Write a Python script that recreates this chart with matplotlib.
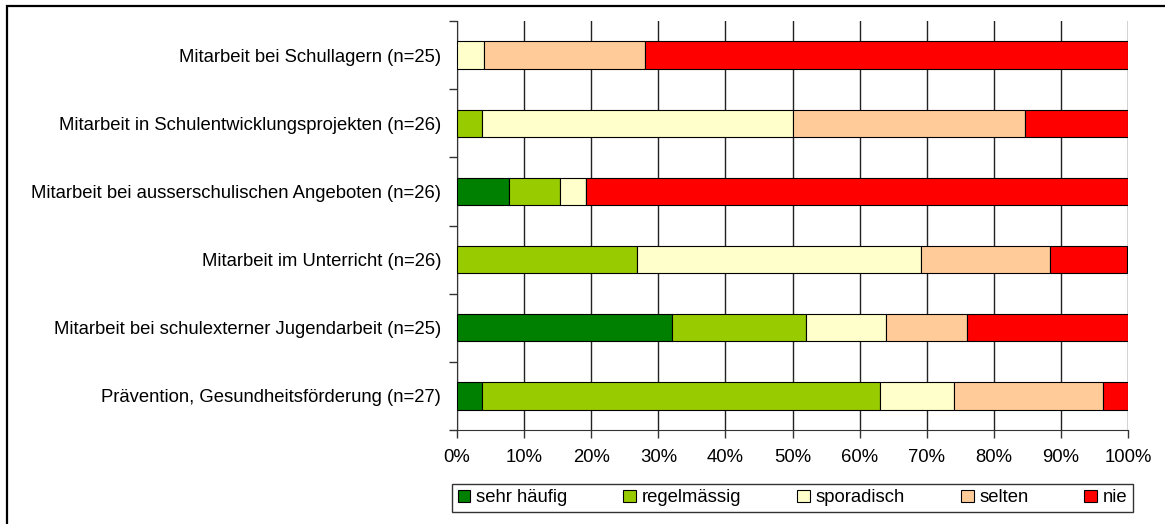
import numpy as np
import matplotlib.pyplot as plt
from matplotlib.patches import Rectangle

plt.rcParams['font.family'] = ['Liberation Sans', 'DejaVu Sans']

# categories, top to bottom
categories = ["Mitarbeit bei Schullagern (n=25)",
              "Mitarbeit in Schulentwicklungsprojekten (n=26)",
              "Mitarbeit bei ausserschulischen Angeboten (n=26)",
              "Mitarbeit im Unterricht (n=26)",
              "Mitarbeit bei schulexterner Jugendarbeit (n=25)",
              "Prävention, Gesundheitsförderung (n=27)"]

series_names = ["sehr häufig", "regelmässig", "sporadisch", "selten", "nie"]

# shares in percent per category
sehr_haeufig = [0.0, 0.0, 7.7, 0.0, 32.0, 3.7]
regelmaessig = [0.0, 3.8, 7.7, 26.9, 20.0, 59.3]
sporadisch = [4.0, 46.2, 3.8, 42.3, 12.0, 11.1]
selten = [24.0, 34.6, 0.0, 19.2, 12.0, 22.2]
nie = [72.0, 15.4, 80.8, 11.5, 24.0, 3.7]

x_ticks = np.arange(0, 101, 10)
x_tick_labels = [f"{t}%" for t in x_ticks]

colors = ["#008000", "#99cc00", "#ffffcc", "#ffcc99", "#ff0000"]
fs = 13.3

fig = plt.figure(figsize=(11.65, 5.24), dpi=100)
W, H = 1165, 524
ax = fig.add_axes([457 / W, 1 - 430 / H, (1128 - 457) / W, (430 - 21) / H])

# outer frame (only top and left visible in the reference)
fig.patches.append(Rectangle((7 / W, -0.1), 1.2, 1 - 6 / H + 0.1, transform=fig.transFigure,
                             fill=False, edgecolor="black", linewidth=1.6))

y = np.arange(len(categories))
left = np.zeros(len(categories))
for name, vals, col in zip(series_names, [sehr_haeufig, regelmaessig, sporadisch, selten, nie], colors):
    vals = np.array(vals)
    ax.barh(y, vals, left=left, height=0.4, color=col, edgecolor="black",
            linewidth=0.8, label=name, zorder=3)
    left += vals

ax.set_xlim(0, 100)
ax.set_ylim(len(categories) - 0.5, -0.5)

for t in x_ticks:
    ax.axvline(t, color="#222222", linewidth=1.0, zorder=1)

ax.set_xticks(x_ticks)
ax.set_xticklabels(x_tick_labels, fontsize=fs)
ax.tick_params(axis="x", length=6, width=1, pad=8, color="#333333")

ax.set_yticks(y)
ax.set_yticklabels(categories, fontsize=fs)
ax.set_yticks(np.arange(-0.5, len(categories)), minor=True)
ax.tick_params(axis="y", which="major", length=0, pad=11.5)
ax.tick_params(axis="y", which="minor", length=6, width=1, color="#333333")

for s in ["top", "right"]:
    ax.spines[s].set_visible(False)
ax.spines["left"].set_color("#333333")
ax.spines["bottom"].set_color("#333333")

leg_l, leg_r = 452 / W, 1133 / W
leg = fig.legend(loc="lower left", bbox_to_anchor=(leg_l, 1 - 512 / H, leg_r - leg_l, (512 - 483) / H),
                 mode="expand", ncol=5, fontsize=fs, frameon=True, fancybox=False,
                 handlelength=0.7, handleheight=0.7, handletextpad=0.3, borderaxespad=0,
                 borderpad=0.3)
leg.get_frame().set_edgecolor("black")
leg.get_frame().set_linewidth(1.0)

fig.savefig("out.png", dpi=100)
